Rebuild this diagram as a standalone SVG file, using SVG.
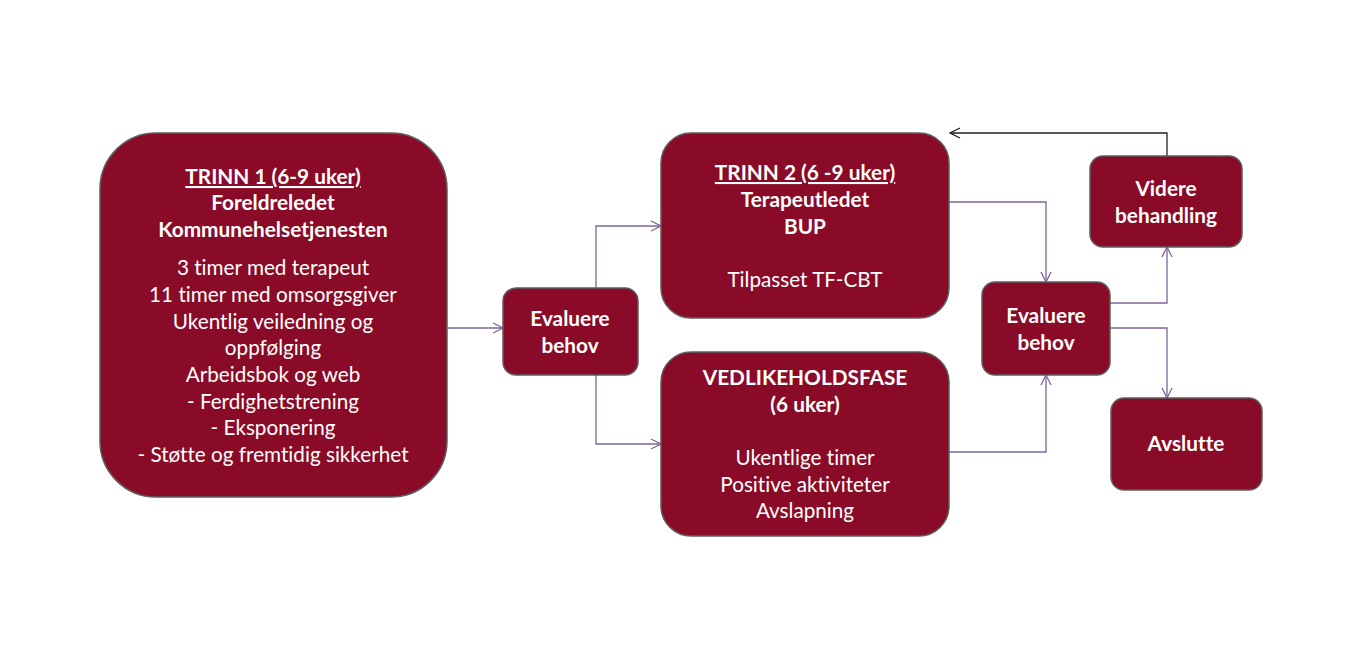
<svg xmlns="http://www.w3.org/2000/svg" width="1350" height="650" viewBox="0 0 1350 650">
<style>
.box{fill:#8A0B27;stroke:#5E5E5E;stroke-width:1.5}
.t{font-family:Lato,"Liberation Sans",sans-serif;font-size:20.7px;fill:#fff;text-anchor:middle;font-variant-ligatures:none;font-feature-settings:"liga" 0}
.b{font-weight:bold;font-size:20.8px}
.u{text-decoration:underline}
.c{fill:none;stroke:#7D6699;stroke-width:1.3}
.k{fill:none;stroke:#222;stroke-width:1.3}
</style>
<defs>
<marker id="ap" viewBox="0 0 12 12" refX="11" refY="6" markerWidth="12" markerHeight="12" markerUnits="userSpaceOnUse" orient="auto">
<path d="M1,1 L11,6 L1,11" fill="none" stroke="#7D6699" stroke-width="1.3"/>
</marker>
<marker id="ak" viewBox="0 0 12 12" refX="11" refY="6" markerWidth="12" markerHeight="12" markerUnits="userSpaceOnUse" orient="auto">
<path d="M1,1 L11,6 L1,11" fill="none" stroke="#222" stroke-width="1.3"/>
</marker>
</defs>
<rect width="1350" height="650" fill="#fff"/>
<g id="connectors">
<path class="c" d="M441,328 H503" marker-end="url(#ap)"/>
<path class="c" d="M596,288 V226 H661" marker-end="url(#ap)"/>
<path class="c" d="M596,375 V444 H661" marker-end="url(#ap)"/>
<path class="c" d="M949,202 H1046 V282" marker-end="url(#ap)"/>
<path class="c" d="M949,452 H1046 V375" marker-end="url(#ap)"/>
<path class="c" d="M1110,303 H1167 V247" marker-end="url(#ap)"/>
<path class="c" d="M1110,328 H1167 V398" marker-end="url(#ap)"/>
<path class="k" d="M1167,156 V133 H950" marker-end="url(#ak)"/>
</g>
<g id="trinn1">
<rect class="box" x="100" y="133" width="347" height="364" rx="56"/>
<text class="t b u" x="273" y="184">TRINN 1 (6-9 uker)</text>
<text class="t b" x="273" y="210">Foreldreledet</text>
<text class="t b" x="273" y="237">Kommunehelsetjenesten</text>
<text class="t" x="273" y="275">3 timer med terapeut</text>
<text class="t" x="273" y="302">11 timer med omsorgsgiver</text>
<text class="t" x="273" y="329">Ukentlig veiledning og</text>
<text class="t" x="273" y="355">oppfølging</text>
<text class="t" x="273" y="382">Arbeidsbok og web</text>
<text class="t" x="273" y="409">- Ferdighetstrening</text>
<text class="t" x="273" y="435">- Eksponering</text>
<text class="t" x="273" y="462">- Støtte og fremtidig sikkerhet</text>
</g>
<g id="evaluere1">
<rect class="box" x="503" y="288" width="135" height="87" rx="13"/>
<text class="t b" x="570" y="326">Evaluere</text>
<text class="t b" x="570" y="353">behov</text>
</g>
<g id="trinn2">
<rect class="box" x="661" y="133" width="288" height="185" rx="30"/>
<text class="t b u" x="805" y="180">TRINN 2 (6 -9 uker)</text>
<text class="t b" x="805" y="207">Terapeutledet</text>
<text class="t b" x="805" y="234">BUP</text>
<text class="t" x="805" y="287">Tilpasset TF-CBT</text>
</g>
<g id="vedlikehold">
<rect class="box" x="661" y="352" width="288" height="184" rx="30"/>
<text class="t b" x="805" y="385">VEDLIKEHOLDSFASE</text>
<text class="t b" x="805" y="412">(6 uker)</text>
<text class="t" x="805" y="465">Ukentlige timer</text>
<text class="t" x="805" y="492">Positive aktiviteter</text>
<text class="t" x="805" y="518">Avslapning</text>
</g>
<g id="evaluere2">
<rect class="box" x="982" y="282" width="128" height="93" rx="13"/>
<text class="t b" x="1046" y="323">Evaluere</text>
<text class="t b" x="1046" y="350">behov</text>
</g>
<g id="videre">
<rect class="box" x="1090" y="156" width="152" height="91" rx="13"/>
<text class="t b" x="1166" y="196">Videre</text>
<text class="t b" x="1166" y="223">behandling</text>
</g>
<g id="avslutte">
<rect class="box" x="1111" y="398" width="151" height="92" rx="13"/>
<text class="t b" x="1186" y="451">Avslutte</text>
</g>
</svg>
